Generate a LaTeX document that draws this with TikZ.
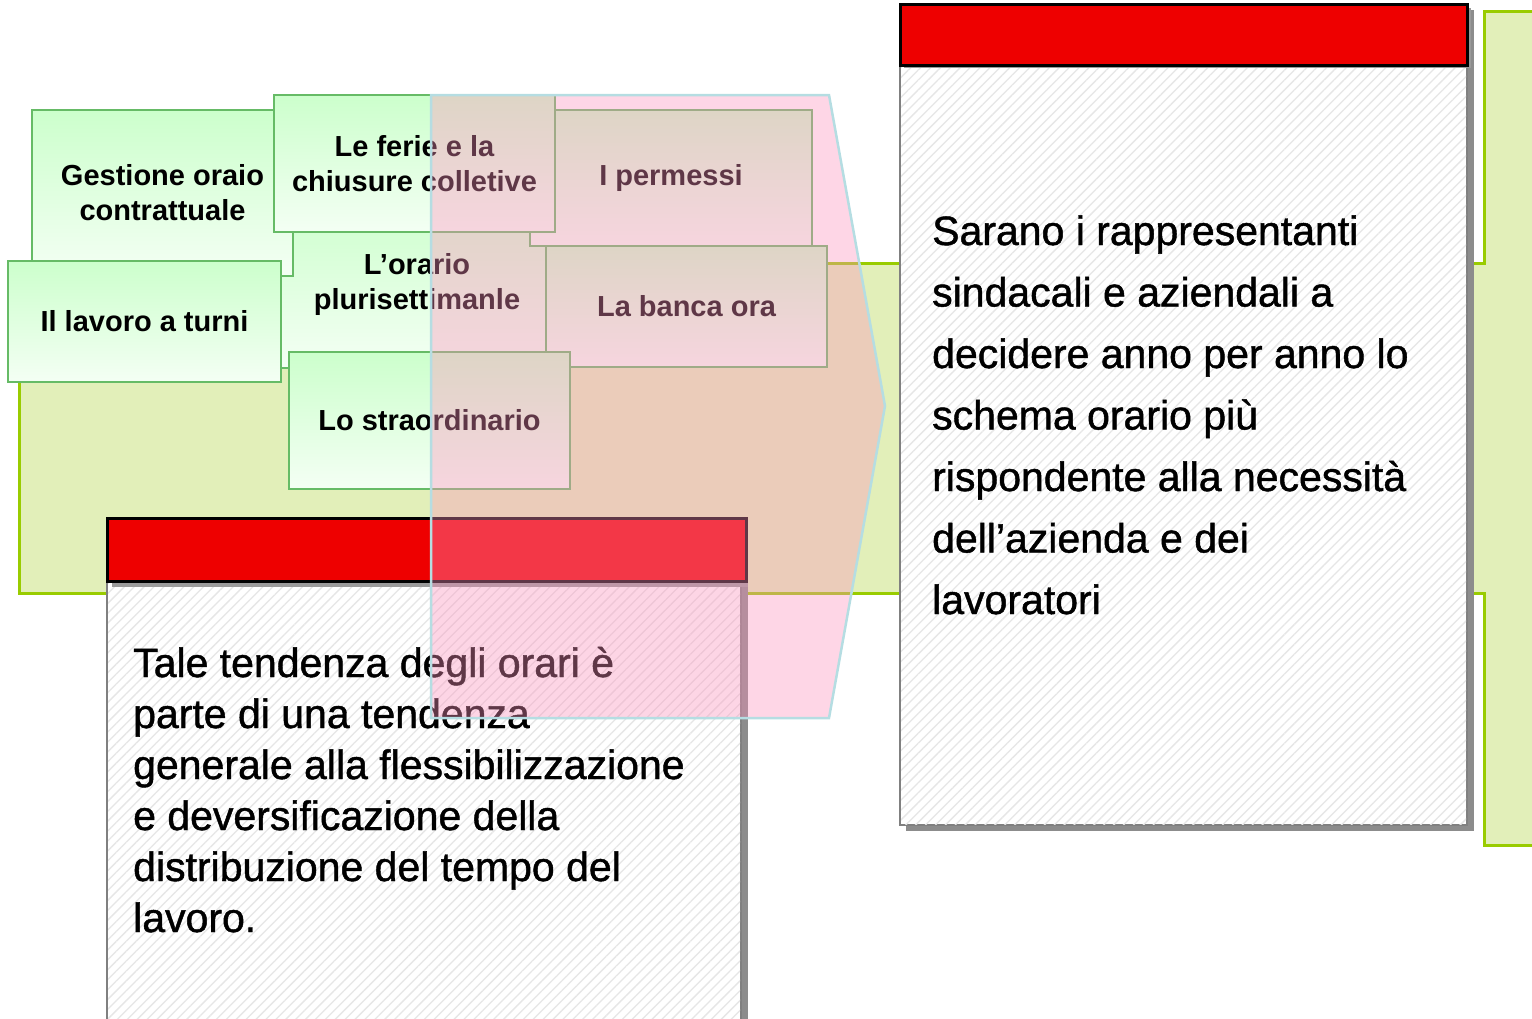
\documentclass[tikz,border=0pt]{standalone}
\usepackage{fontspec}
\setmainfont{Liberation Sans}
\newfontfamily\notefont[FakeBold=1.1]{Liberation Sans}
\usetikzlibrary{patterns.meta}
\definecolor{bandfill}{HTML}{E2EFB9}
\definecolor{bandline}{HTML}{99CC00}
\definecolor{gtop}{HTML}{CCFFCC}
\definecolor{gbot}{HTML}{F4FFF4}
\definecolor{gline}{HTML}{66BB66}
\definecolor{hdr}{HTML}{EE0000}
\definecolor{pinkov}{RGB}{252,147,189}
\definecolor{ovline}{HTML}{B5DDE2}
\definecolor{shadowgray}{HTML}{8C8C8C}
\definecolor{hdrshadow}{HTML}{9A9A9A}
\definecolor{hatch}{HTML}{E6E6E6}
\begin{document}
\begin{tikzpicture}[x=1pt,y=-1pt,
  gbox/.style={draw=gline, line width=1.5pt, top color=gtop, bottom color=gbot,
    inner sep=0pt, align=center, font=\bfseries\fontsize{29}{35}\selectfont},
  band/.style={fill=bandfill, draw=bandline, line width=3pt},
  hdrbar/.style={fill=hdr, draw=black, line width=3pt},
  bodybox/.style={fill=white, draw=gray, line width=1.5pt},
  hatchfill/.style={pattern={Lines[angle=45,distance=7pt,line width=1.3pt]}, pattern color=hatch},
  shadowbox/.style={fill=shadowgray},
  overlay/.style={fill=pinkov, fill opacity=0.38, draw=ovline, line width=2.5pt},
  bodytext/.style={inner sep=0pt, align=left, anchor=base west}
]
\useasboundingbox (0,0) rectangle (1532,1018);
\clip (0,0) rectangle (1532,1018);

% green band with right bar
\draw[band] (19,263) -- (1484,263) -- (1484,11) -- (1550,11) -- (1550,845)
  -- (1484,845) -- (1484,593) -- (19,593) -- cycle;

% green boxes
\node[gbox, minimum width=306, minimum height=168] (orario) at (417,284) {L’orario\\plurisettimanle};
\node[gbox, minimum width=261, minimum height=166] (gestione) at (162.5,193) {Gestione oraio\\contrattuale};
\node[gbox, minimum width=282, minimum height=136] (permessi) at (671,178) {I permessi};
\node[gbox, minimum width=281, minimum height=137] (ferie) at (414.5,163.5) {Le ferie e la\\chiusure colletive};
\node[gbox, minimum width=281, minimum height=121] (banca) at (686.5,306.5) {La banca ora};
\node[gbox, minimum width=273, minimum height=121] (turni) at (144.5,321.5) {Il lavoro a turni};
\node[gbox, minimum width=281, minimum height=137] (straord) at (429.5,420.5) {Lo straordinario};

% bottom-left note
\fill[shadowbox] (112,523) rectangle (748,1030);
\draw[bodybox] (107,581) rectangle (741,1030);
\fill[hatchfill] (108,582) rectangle (740,1030);
\fill[hdrshadow] (112,523) rectangle (748,587);
\draw[hdrbar] (107,518) rectangle (746,581);
\node[bodytext, font=\notefont\fontsize{41}{51}\selectfont] (tale) at (133,932)
  {Tale tendenza degli orari è\\parte di una tendenza\\generale alla flessibilizzazione\\e deversificazione della\\distribuzione del tempo del\\lavoro.};

% right note
\fill[shadowbox] (906,10) rectangle (1474,831);
\draw[bodybox] (900,65) rectangle (1467,825);
\fill[hatchfill] (901,66) rectangle (1466,824);
\fill[hdrshadow] (904,8) rectangle (1471,68);
\draw[hdrbar] (900,4) rectangle (1467,65);
\node[bodytext, font=\notefont\fontsize{41}{61.5}\selectfont] (sarano) at (932,614)
  {Sarano i rappresentanti\\sindacali e aziendali a\\decidere anno per anno lo\\schema orario più\\rispondente alla necessità\\dell’azienda e dei\\lavoratori};

% translucent pentagon arrow
\draw[overlay] (431,95) -- (829,95) -- (885,406) -- (829,718) -- (431,718) -- cycle;
\end{tikzpicture}
\end{document}
